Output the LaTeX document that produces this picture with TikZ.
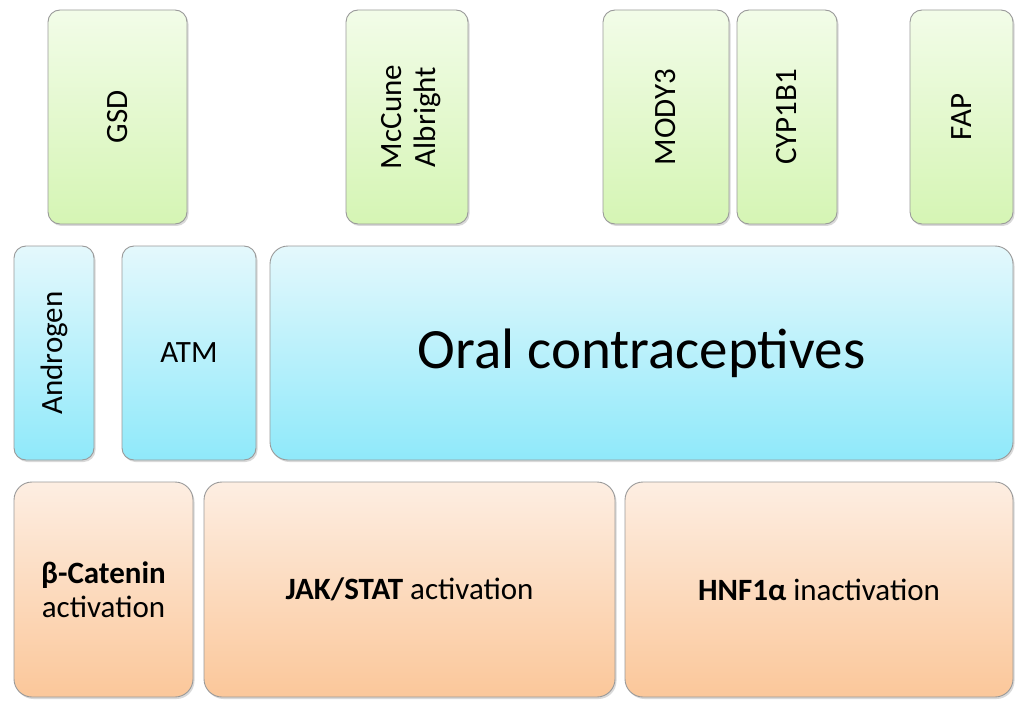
\documentclass[tikz,border=0pt]{standalone}
\usepackage{fontspec}
\setmainfont{Carlito}
\usetikzlibrary{shadows}
\definecolor{gtop}{HTML}{F2FCE8}
\definecolor{gbot}{HTML}{D5F5B4}
\definecolor{btop}{HTML}{E4F8FC}
\definecolor{bbot}{HTML}{8FE9FA}
\definecolor{otop}{HTML}{FDEEE2}
\definecolor{obot}{HTML}{FBC79A}
\definecolor{edge}{HTML}{9A9A9A}
\tikzset{
  box/.style={draw=edge, line width=0.9pt, rounded corners=12pt,
    drop shadow={shadow xshift=1.5pt, shadow yshift=-2pt, opacity=0.25, fill=black!60}},
  gbox/.style={box, top color=gtop, bottom color=gbot},
  bbox/.style={box, top color=btop, bottom color=bbot},
  obox/.style={box, rounded corners=18pt, top color=otop, bottom color=obot},
  lbl/.style={font=\fontsize{31}{34}\selectfont, align=center, text=black},
  vlbl/.style={lbl, rotate=90}
}
\begin{document}
\begin{tikzpicture}[x=1pt,y=-1pt]
\useasboundingbox (0,0) rectangle (1024,711);
% green row
\draw[gbox] (48,10) rectangle (187,224) coordinate[pos=.5] (gsd);
\draw[gbox] (346,10) rectangle (468,224) coordinate[pos=.5] (mcc);
\draw[gbox] (603,10) rectangle (729,224) coordinate[pos=.5] (mody);
\draw[gbox] (737,10) rectangle (837,224) coordinate[pos=.5] (cyp);
\draw[gbox] (910,10) rectangle (1013,224) coordinate[pos=.5] (fap);
\node[vlbl] (tgsd) at (gsd) {GSD};
\node[vlbl] (tmcc) at ([xshift=4pt]mcc) {McCune\\Albright};
\node[vlbl] (tmody) at (mody) {MODY3};
\node[vlbl] (tcyp) at (cyp) {CYP1B1};
\node[vlbl] (tfap) at (fap) {FAP};
% blue row
\draw[bbox] (14,246) rectangle (94,460) coordinate[pos=.5] (andr);
\draw[bbox] (122,246) rectangle (256,460) coordinate[pos=.5] (atm);
\draw[bbox, rounded corners=18pt] (270,246) rectangle (1013,460) coordinate[pos=.5] (oral);
\node[vlbl] (tandr) at (andr) {Androgen};
\node[lbl] (tatm) at (atm) {ATM};
\node[lbl, font=\fontsize{57}{60}\selectfont] (toral) at (oral) {Oral contraceptives};
% orange row
\draw[obox] (14,482) rectangle (193,697) coordinate[pos=.5] (bcat);
\draw[obox] (204,482) rectangle (615,697) coordinate[pos=.5] (jak);
\draw[obox] (625,482) rectangle (1013,697) coordinate[pos=.5] (hnf);
\node[lbl] (tbcat) at (bcat) {\textbf{β-Catenin}\\activation};
\node[lbl] (tjak) at (jak) {\textbf{JAK/STAT} activation};
\node[lbl] (thnf) at (hnf) {\textbf{HNF1α} inactivation};
\end{tikzpicture}
\end{document}
